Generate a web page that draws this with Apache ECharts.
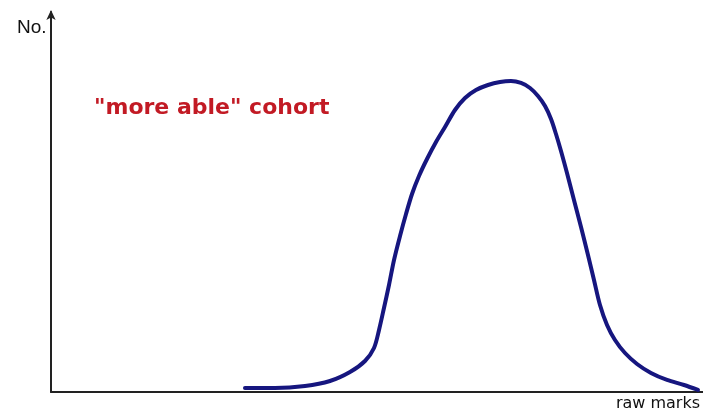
<!DOCTYPE html>
<html>
<head>
<meta charset="utf-8">
<script src="https://cdn.jsdelivr.net/npm/echarts@6/dist/echarts.min.js"></script>
<style>html,body{margin:0;padding:0;background:#fff}#c{width:703px;height:414px}</style>
</head>
<body>
<div id="c"></div>
<script>
// raw marks (0-100 scale) and relative number of students (0-100 scale)
var marks = [29.75, 34.36, 38.96, 42.79, 45.86, 48.16, 49.54, 50.31, 51.07, 51.84, 52.61,
             53.53, 54.45, 55.37, 56.44, 57.67, 59.05, 60.43, 61.96, 63.50, 65.18,
             67.02, 68.87, 70.55, 72.09, 73.47, 74.69, 75.77, 76.69, 77.45, 78.22,
             79.14, 80.21, 81.29, 82.36, 83.28, 84.20, 85.28, 86.50, 88.04, 89.88,
             92.02, 94.48, 97.09, 99.23];
var counts = [1.05, 1.05, 1.58, 2.89, 5.26, 8.16, 11.58, 16.32, 22.11, 28.16, 34.74,
              41.05, 46.84, 52.11, 56.84, 61.32, 65.79, 69.74, 74.21, 77.37, 79.47,
              80.79, 81.58, 81.84, 81.32, 80.00, 77.89, 75.26, 71.84, 67.89, 63.42,
              57.63, 50.53, 43.42, 36.05, 29.47, 22.89, 17.63, 13.68, 10.26, 7.37,
              5.00, 3.16, 1.84, 0.53];
var xName = 'raw marks';
var yName = 'No.';
var cohortLabel = '"more able" cohort';

var pts = marks.map(function (m, i) { return [m, counts[i]]; });
var chart = echarts.init(document.getElementById('c'), null, {renderer: 'canvas'});
chart.setOption({
  backgroundColor: '#ffffff',
  animation: false,
  grid: {left: 51, right: 0, top: 12, bottom: 22},
  xAxis: {
    type: 'value', min: 0, max: 100,
    axisLine: {show: true, lineStyle: {color: '#222', width: 2}},
    axisTick: {show: false}, axisLabel: {show: false}, splitLine: {show: false}
  },
  yAxis: {
    type: 'value', min: 0, max: 100,
    axisLine: {show: true, symbol: ['none', 'arrow'], symbolSize: [7, 10], symbolOffset: [0, 2], lineStyle: {color: '#222', width: 2}},
    axisTick: {show: false}, axisLabel: {show: false}, splitLine: {show: false}
  },
  series: [{
    type: 'line', data: pts, smooth: 0.3, showSymbol: false,
    lineStyle: {color: '#16167f', width: 4, cap: 'round'}
  }],
  graphic: [
    {type: 'text', left: 17, top: 18, style: {text: yName, font: '19px "Liberation Sans", Arial, sans-serif', fill: '#111'}},
    {type: 'text', right: 3, top: 396, style: {text: xName, font: '16px "DejaVu Sans", sans-serif', fill: '#111'}},
    {type: 'text', left: 94, top: 97, style: {text: cohortLabel, font: 'bold 22px "DejaVu Sans", sans-serif', fill: '#c21a24'}}
  ]
});
</script>
</body>
</html>
